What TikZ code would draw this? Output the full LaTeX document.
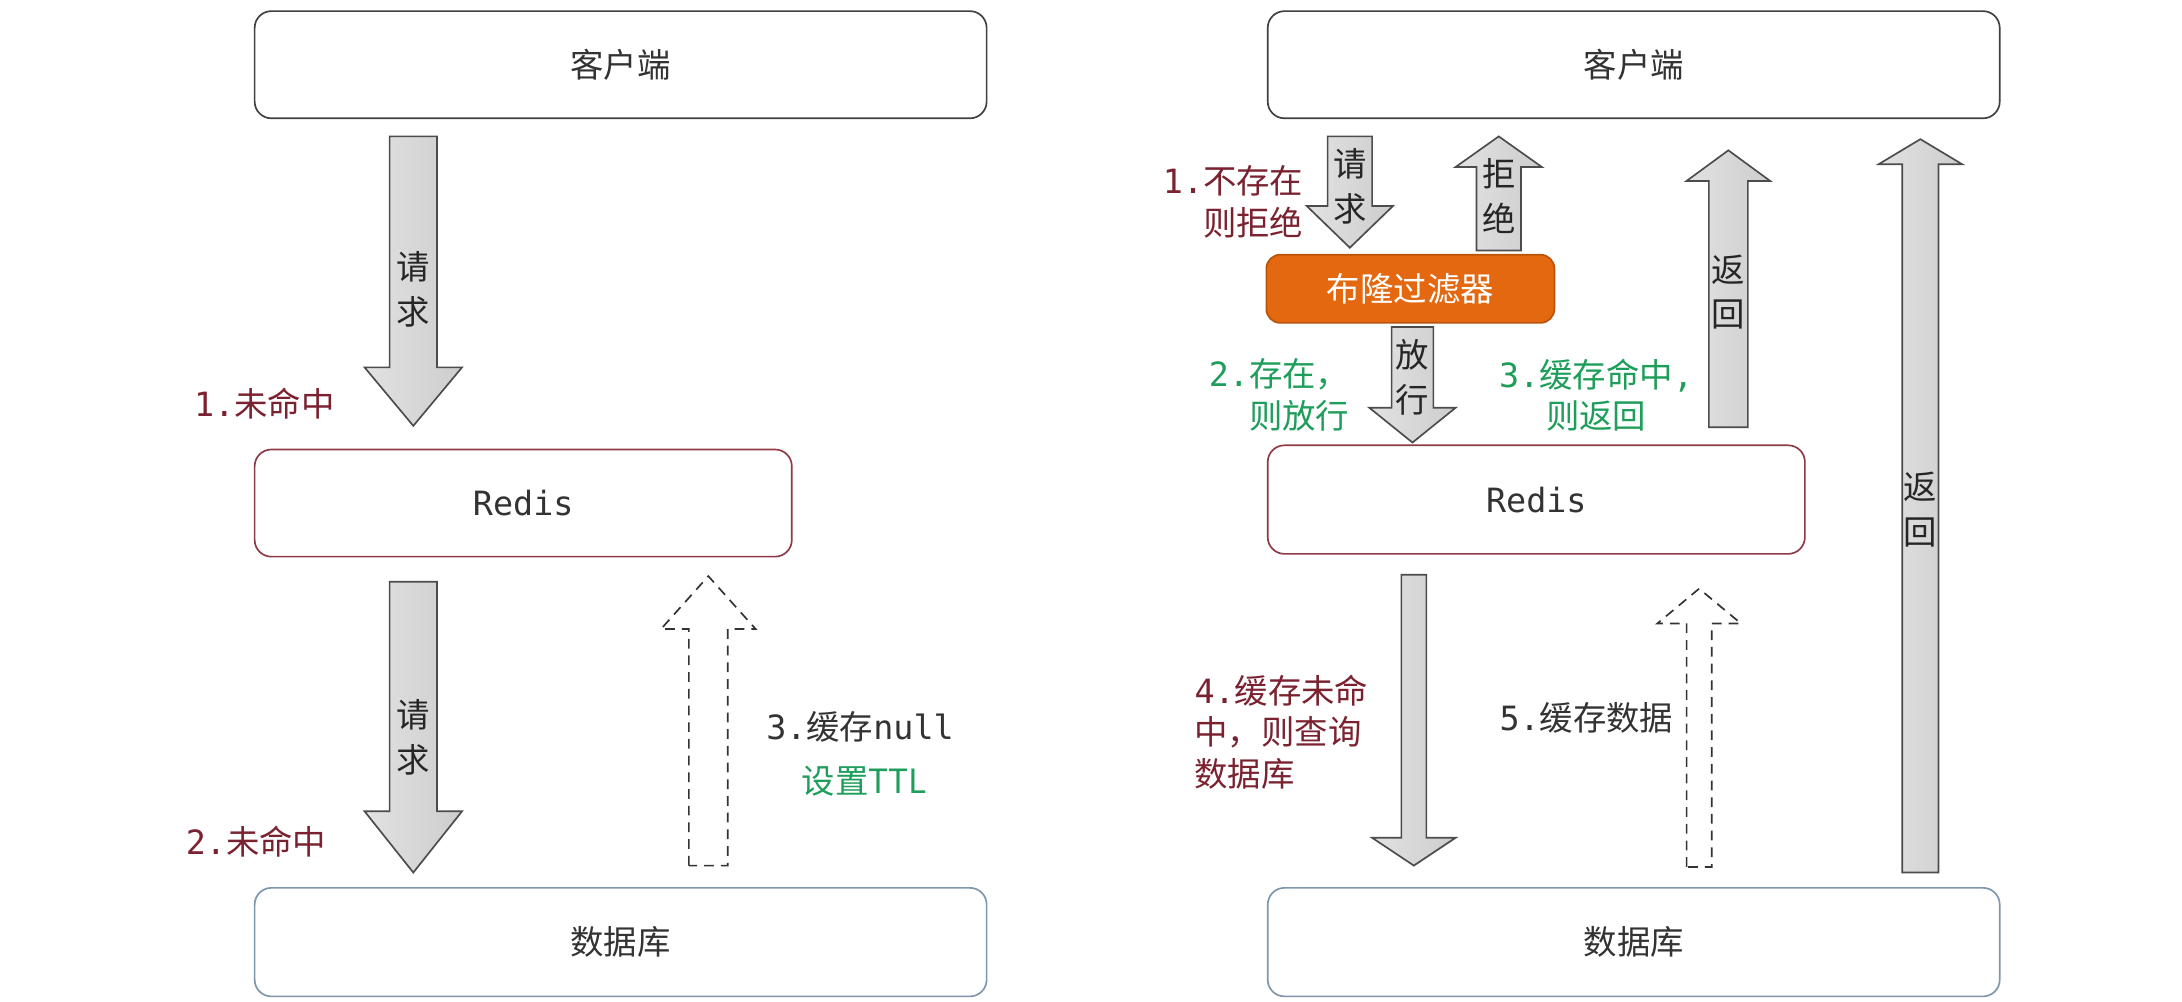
\documentclass[tikz,border=0pt]{standalone}
\usepackage{fontspec}
\setmainfont{Noto Sans CJK SC}
\newfontfamily\monof{DejaVu Sans Mono}
\usetikzlibrary{calc}
\definecolor{dred}{HTML}{7B2230}
\definecolor{dgreen}{HTML}{1E9E5A}
\definecolor{tgray}{HTML}{333333}
\definecolor{orng}{HTML}{E3680F}
\definecolor{orngb}{HTML}{B9530A}
\definecolor{rdb}{HTML}{8E3A47}
\definecolor{dbb}{HTML}{7F97AD}
\definecolor{arrl}{HTML}{E2E2E2}
\definecolor{arrr}{HTML}{CDCDCD}
\newcommand{\downarr}[6][]{\draw[#1] ($(#2)+(-#4,0)$) -- ($(#3)+(-#4,-#6)$) -- ($(#3)+(-#5,-#6)$) -- (#3) -- ($(#3)+(#5,-#6)$) -- ($(#3)+(#4,-#6)$) -- ($(#2)+(#4,0)$) -- cycle;}
\newcommand{\uparr}[6][]{\draw[#1] ($(#2)+(-#4,0)$) -- ($(#3)+(-#4,#6)$) -- ($(#3)+(-#5,#6)$) -- (#3) -- ($(#3)+(#5,#6)$) -- ($(#3)+(#4,#6)$) -- ($(#2)+(#4,0)$) -- cycle;}
\begin{document}
\begin{tikzpicture}[x=0.5pt,y=-0.5pt,
  font=\fontsize{12}{15}\selectfont,
  box/.style={draw=black!75, line width=0.6pt, rounded corners=6pt, inner sep=0pt, text=tgray},
  redisbox/.style={box, draw=rdb},
  dbbox/.style={box, draw=dbb},
  filt/.style={draw=orngb, fill=orng, line width=0.6pt, rounded corners=5pt, inner sep=0pt, text=white},
  blk/.style={draw=black!70, left color=arrl, right color=arrr, line width=0.6pt, line join=miter},
  dsh/.style={draw=black!80, line width=0.6pt, dash pattern=on 3.5pt off 2.5pt},
  vlab/.style={align=center, font=\fontsize{12}{16}\selectfont, inner sep=0pt, text=black!85},
  redlab/.style={text=dred, inner sep=0pt},
  greenlab/.style={text=dgreen, inner sep=0pt},
  graylab/.style={text=tgray, inner sep=0pt}]
\useasboundingbox (0,0) rectangle (1568,720);
\fill[white] (0,0) rectangle (1568,720);

% ---------- left panel ----------
\node[box, minimum width=263pt, minimum height=38.5pt] (cl1) at (446,46.5) {客户端};
\node[redisbox, minimum width=193pt, minimum height=38.5pt] (rd1) at (376,361.5) {\monof Redis};
\node[dbbox, minimum width=263pt, minimum height=39pt] (db1) at (446,677) {数据库};

\coordinate (a1t) at (297,98);  \coordinate (a1h) at (297,306);
\downarr[blk]{a1t}{a1h}{17}{35}{42}
\node[vlab] (a1l) at (297,208) {请\\求};
\node[redlab] (l1) at (190,290) {{\monof 1.}未命中};

\coordinate (a2t) at (297,418);  \coordinate (a2h) at (297,627);
\downarr[blk]{a2t}{a2h}{17}{35}{44}
\node[vlab] (a2l) at (297,530) {请\\求};
\node[redlab] (l2) at (184,605) {{\monof 2.}未命中};

\coordinate (d1t) at (509,622);  \coordinate (d1h) at (509,414);
\uparr[dsh]{d1t}{d1h}{14}{34}{38}
\node[graylab] (l3) at (618,522) {{\monof 3.}缓存{\monof null}};
\node[greenlab] (l3b) at (621,561) {设置TTL};

% ---------- right panel ----------
\node[box, minimum width=263pt, minimum height=38.5pt] (cl2) at (1174,46.5) {客户端};
\node[filt, minimum width=103.5pt, minimum height=24.5pt] (bf) at (1013.5,207.5) {布隆过滤器};
\node[redisbox, minimum width=193pt, minimum height=39pt] (rd2) at (1104,359) {\monof Redis};
\node[dbbox, minimum width=263pt, minimum height=39pt] (db2) at (1174,677) {数据库};

\coordinate (r1t) at (970,98);  \coordinate (r1h) at (970,178);
\downarr[blk]{r1t}{r1h}{16}{31}{30}
\node[vlab] (r1l) at (970,134) {请\\求};
\node[redlab, align=right, anchor=east] (lr1) at (937,145) {{\monof 1.}不存在\\则拒绝};

\coordinate (r2t) at (1077,180);  \coordinate (r2h) at (1077,98);
\uparr[blk]{r2t}{r2h}{16}{31}{22}
\node[vlab] (r2l) at (1077,141) {拒\\绝};

\coordinate (r3t) at (1015,235);  \coordinate (r3h) at (1015,318);
\downarr[blk]{r3t}{r3h}{15}{31}{25}
\node[vlab] (r3l) at (1015,271) {放\\行};
\node[greenlab, align=right, anchor=east] (lr3) at (970,284) {{\monof 2.}存在，\\则放行};

\coordinate (r4t) at (1242,307);  \coordinate (r4h) at (1242,108);
\uparr[blk]{r4t}{r4h}{14}{30}{22}
\node[vlab] (r4l) at (1242,210) {返\\回};
\node[greenlab, align=center] (lr4) at (1147,284) {{\monof 3.}缓存命中{\monof ,}\\则返回};

\coordinate (r5t) at (1380,627);  \coordinate (r5h) at (1380,100);
\uparr[blk]{r5t}{r5h}{13}{30}{18}
\node[vlab] (r5l) at (1380,366) {返\\回};

\coordinate (r6t) at (1016,413);  \coordinate (r6h) at (1016,622);
\downarr[blk]{r6t}{r6h}{9}{30}{20}
\node[redlab, align=left, anchor=west] (lr6) at (858,526) {{\monof 4.}缓存未命\\中，则查询\\数据库};

\coordinate (r7t) at (1221,623);  \coordinate (r7h) at (1221,423);
\uparr[dsh]{r7t}{r7h}{9}{30}{25}
\node[graylab] (lr7) at (1140,516) {{\monof 5.}缓存数据};
\end{tikzpicture}
\end{document}
